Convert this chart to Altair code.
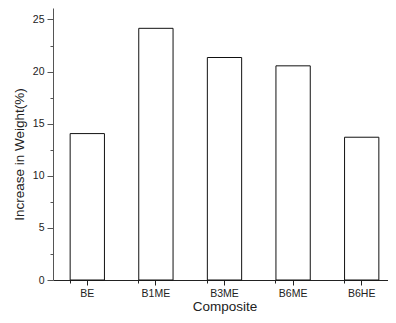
import altair as alt
import pandas as pd

categories = ["BE", "B1ME", "B3ME", "B6ME", "B6HE"]
values = [14.05, 24.15, 21.35, 20.55, 13.7]
major_y = [0, 5, 10, 15, 20, 25]
minor_y = [2.5, 7.5, 12.5, 17.5, 22.5]

df = pd.DataFrame({"Composite": categories, "Increase": values})

font = "Liberation Sans"
xscale = alt.Scale(domain=categories, paddingInner=0.5, paddingOuter=0.25)
yscale = alt.Scale(domain=[0, 26.1], nice=False)

bars = alt.Chart(df).mark_bar(fill="white", stroke="#111", strokeWidth=1).encode(
    x=alt.X("Composite:N", scale=xscale, sort=categories,
            axis=alt.Axis(orient="bottom", title="Composite", labelAngle=0,
                          labelFont=font, labelFontSize=10.5, labelColor="#222",
                          titleFont=font, titleFontSize=13.5, titleFontWeight="normal",
                          titleColor="#222", titlePadding=1,
                          domainColor="#222", tickColor="#222", tickSize=5,
                          tickWidth=1, labelPadding=3, grid=False)),
    y=alt.Y("Increase:Q", scale=yscale,
            axis=alt.Axis(orient="left", title="Increase in Weight(%)", values=major_y,
                          labelFont=font, labelFontSize=10.5, labelColor="#222",
                          titleFont=font, titleFontSize=13.5, titleFontWeight="normal",
                          titleColor="#222", titlePadding=6, titleY=146,
                          domainColor="#555", tickColor="#555", tickSize=6,
                          labelPadding=3, grid=False)),
)

minor = alt.Chart(df).mark_bar(opacity=0).encode(
    x=alt.X("Composite:N", scale=xscale, sort=categories,
            axis=alt.Axis(orient="bottom", title=None, labels=False, domain=False,
                          bandPosition=0, tickColor="#222", tickSize=3, grid=False)),
    y=alt.Y("Increase:Q", scale=yscale,
            axis=alt.Axis(orient="left", title=None, labels=False, domain=False,
                          values=minor_y, tickColor="#555", tickSize=3, grid=False)),
)

chart = alt.layer(bars, minor).resolve_axis(x="independent", y="independent").properties(
    width=343, height=272,
    autosize=alt.AutoSizeParams(type="none"),
    padding={"left": 45, "top": 0, "right": -8, "bottom": 35},
).configure_view(stroke=None)

chart.save("out.html", embed_options={"renderer": "svg", "actions": False})
